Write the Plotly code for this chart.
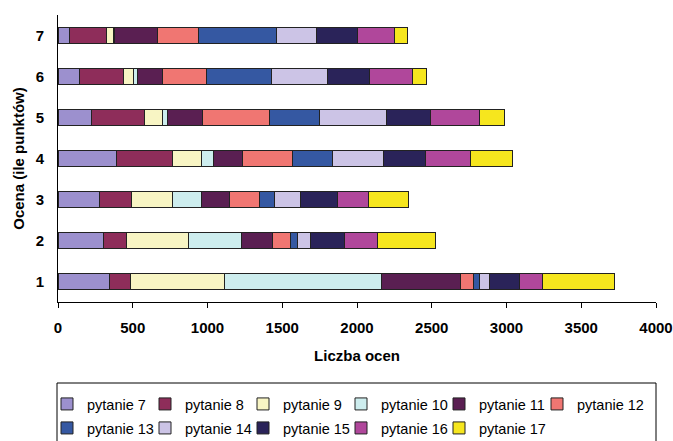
import plotly.graph_objects as go

categories = ["1", "2", "3", "4", "5", "6", "7"]
series_names = ["pytanie 7", "pytanie 8", "pytanie 9", "pytanie 10", "pytanie 11", "pytanie 12",
                "pytanie 13", "pytanie 14", "pytanie 15", "pytanie 16", "pytanie 17"]

# values per series, for categories 1..7
pyt7 = [346, 307, 279, 392, 223, 147, 74]
pyt8 = [136, 150, 212, 372, 356, 290, 252]
pyt9 = [635, 418, 274, 196, 118, 67, 45]
pyt10 = [1047, 352, 196, 78, 37, 31, 10]
pyt11 = [528, 205, 187, 198, 230, 163, 282]
pyt12 = [85, 122, 201, 334, 452, 296, 274]
pyt13 = [44, 51, 102, 267, 334, 432, 523]
pyt14 = [67, 82, 172, 341, 446, 374, 272]
pyt15 = [199, 227, 245, 283, 294, 283, 271]
pyt16 = [156, 225, 211, 296, 328, 289, 247]
pyt17 = [481, 388, 267, 285, 169, 96, 87]

series_values = [pyt7, pyt8, pyt9, pyt10, pyt11, pyt12, pyt13, pyt14, pyt15, pyt16, pyt17]
colors = ["#9C90CE", "#8E2D5A", "#F8F5C4", "#CDEDEE", "#5A1F52", "#F07672",
          "#3558A2", "#CCC4E6", "#2A2359", "#B0479B", "#F6E61E"]

FONT = "Liberation Sans, Arial, sans-serif"
LEG_FONT = dict(size=14.5, family=FONT, color="black")

fig = go.Figure()
for i, (name, vals, col) in enumerate(zip(series_names, series_values, colors)):
    row1 = i < 6
    last_in_row = i in (5, 10)
    fig.add_trace(go.Bar(
        y=categories, x=vals, name=name, orientation="h",
        marker=dict(color=col, line=dict(color="#222222", width=1)),
        legend="legend" if row1 else "legend2",
        legendwidth=64 if last_in_row else 53,
    ))

leg_common = dict(
    orientation="h", xref="container", x=47 / 673, xanchor="left",
    yref="container", yanchor="top",
    font=LEG_FONT, bgcolor="rgba(0,0,0,0)", borderwidth=0,
    itemwidth=30, traceorder="normal",
)

fig.update_layout(
    width=673, height=441,
    barmode="stack", bargap=0.61,
    margin=dict(l=58, r=17, t=15, b=139),
    paper_bgcolor="white", plot_bgcolor="white",
    font=dict(family=FONT, color="black"),
    legend=dict(y=1 - 388 / 441, **leg_common),
    legend2=dict(y=1 - 412 / 441, **leg_common),
    showlegend=True,
    shapes=[dict(
        type="rect", xref="paper", yref="paper",
        x0=-1 / 598, x1=1.0, y0=(302 - 383) / 287, y1=(302 - 450) / 287,
        line=dict(color="black", width=1), fillcolor="rgba(0,0,0,0)",
    )],
)

fig.update_xaxes(
    range=[0, 4000], tickvals=[0, 500, 1000, 1500, 2000, 2500, 3000, 3500, 4000],
    showgrid=False, zeroline=False, automargin=False,
    showline=True, linecolor="black", linewidth=1,
    ticks="outside", ticklen=5, tickcolor="black", ticklabelstandoff=7,
    tickfont=dict(size=15, family=FONT, weight="bold", color="black"),
    title=dict(text="Liczba ocen", font=dict(size=15, family=FONT, weight="bold", color="black"), standoff=15),
)
fig.update_yaxes(
    showgrid=False, zeroline=False, automargin=False,
    showline=True, linecolor="black", linewidth=1,
    ticks="", ticklabelstandoff=10,
    tickfont=dict(size=15, family=FONT, weight="bold", color="black"),
    title=dict(text="Ocena (ile punktów)", font=dict(size=15, family=FONT, weight="bold", color="black"), standoff=7),
)

fig.write_html("out.html")
